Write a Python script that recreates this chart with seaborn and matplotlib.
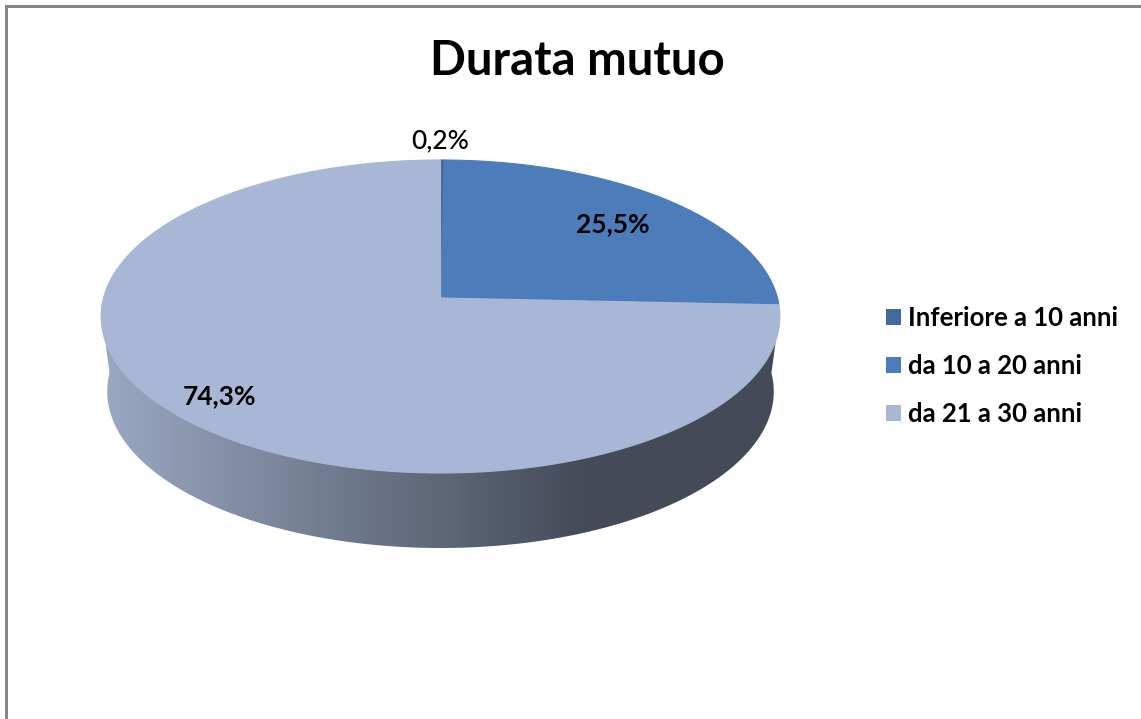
import numpy as np
import seaborn as sns
import matplotlib.pyplot as plt
from matplotlib.patches import Patch, Polygon, Rectangle

# === Dati ===
categorie = ["Inferiore a 10 anni", "da 10 a 20 anni", "da 21 a 30 anni"]
valori = [0.2, 25.5, 74.3]
colori = ["#44699b", "#4c7dba", "#a8b7d6"]
titolo = "Durata mutuo"

sns.set_theme(style="white")
plt.rcParams["font.family"] = ["Lato", "DejaVu Sans"]

fig = plt.figure(figsize=(11.41, 7.19), dpi=100, facecolor="white")
ax = fig.add_axes([0, 0, 1, 1])
ax.axis("off")


# cerchio proiettato in prospettiva (coordinate in pixel)
def proietta(angolo, cx=440.5, cy=298, a=337, b=-119.1, k=0.1182):
    u, v = np.sin(angolo), np.cos(angolo)
    return cx + a * u / (1 + k * v), (cy + b * v) / (1 + k * v)


# === Fianco della torta con sfumatura ===
t = np.radians(np.linspace(90, 270, 200))
xs, ys = proietta(t)
fondo = 548 - ys.max()
x_basso = 440.5 + (xs - 440.5) * 0.982
y_basso = ys + fondo
bordo = np.vstack([[[779, 317]], np.column_stack([x_basso, y_basso]), [[102, 317]]])
contorno = Polygon(bordo, closed=True, facecolor="none", edgecolor="none")
ax.add_patch(contorno)

cmap = sns.blend_palette(["#9aa8c2", "#444a57"], as_cmap=True)
sfumatura = np.clip(np.linspace(0, 1, 512) / 0.72, 0, 1)[None, :]
img = ax.imshow(sfumatura, extent=(102, 779, 560, 300), cmap=cmap, aspect="auto", zorder=1)
img.set_clip_path(contorno)

# === Fette superiori ===
inizio = 0.0
for valore, colore in zip(valori, colori):
    fine = inizio + valore
    th = np.radians(np.linspace(inizio, fine, max(int(valore * 6), 3)) * 3.6)
    px, py = proietta(th)
    punti = np.vstack([[[440.5, 298]], np.column_stack([px, py])])
    ax.add_patch(Polygon(punti, closed=True, facecolor=colore, edgecolor=colore, lw=0.8, zorder=2))
    inizio = fine

# === Etichette percentuali ===
pos_etichette = [(440, 141), (613, 224), (220, 396)]
pesi = ["medium", "bold", "bold"]
for valore, (ex, ey), peso in zip(valori, pos_etichette, pesi):
    testo = f"{valore:.1f}".replace(".", ",") + "%"
    ax.text(ex, ey, testo, ha="center", va="center", fontsize=19, fontweight=peso, color="black", zorder=3)

ax.text(577, 61, titolo, ha="center", va="center", fontsize=34, fontweight="bold", color="black")

# === Cornice (solo alto e sinistra) ===
ax.add_patch(Rectangle((5, 5), 1136, 2.5, facecolor="#868686", edgecolor="none"))
ax.add_patch(Rectangle((5, 5), 2.5, 714, facecolor="#868686", edgecolor="none"))

# === Legenda ===
maniglie = [Patch(facecolor=c, edgecolor="none") for c in colori]
ax.legend(maniglie, categorie, loc="center left", bbox_to_anchor=(886, 366),
          bbox_transform=ax.transData, frameon=False,
          prop={"weight": "bold", "size": 18.5}, handlelength=0.58, handleheight=0.58,
          handletextpad=0.27, labelspacing=0.95, borderpad=0, borderaxespad=0,
          labelcolor="black")

ax.set_xlim(0, 1141)
ax.set_ylim(719, 0)

fig.savefig("out.png", dpi=100, facecolor="white")
